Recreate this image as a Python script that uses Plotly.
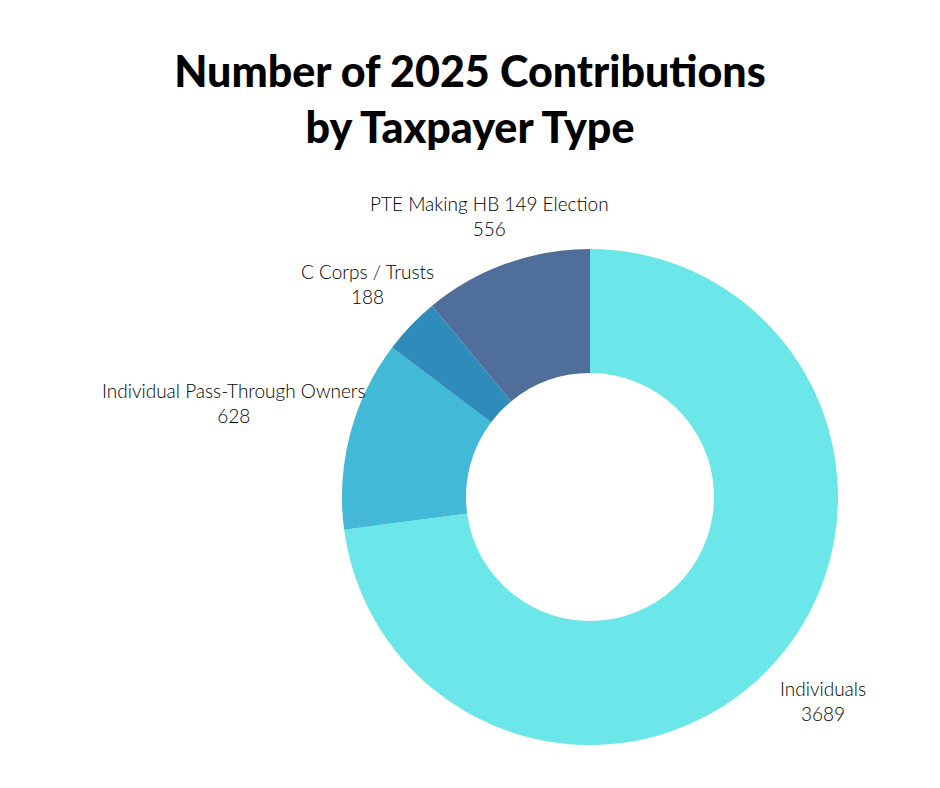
import math
import plotly.graph_objects as go

categories = ["Individuals", "Individual Pass-Through Owners", "C Corps / Trusts", "PTE Making HB 149 Election"]
contributions = [3689, 628, 188, 556]
colors = ["#6BE6E9", "#42B9D7", "#2E8BBA", "#4F6E99"]

W, H = 940, 788
# page is offset by the default 8px body margin
cx, cy, r = 582, 489, 248
label_size = 19
label_gap = 24

fig = go.Figure(go.Pie(
    labels=categories,
    values=contributions,
    hole=0.5,
    sort=False,
    direction="clockwise",
    rotation=0,
    marker=dict(colors=colors, line=dict(width=0)),
    textinfo="none",
    showlegend=False,
    hoverinfo="label+value",
    domain=dict(x=[(cx - r) / W, (cx + r) / W], y=[1 - (cy + r) / H, 1 - (cy - r) / H]),
))

# outside labels placed along each slice's mid-angle
total = sum(contributions)
cum = 0
annotations = []
for lab, val in zip(categories, contributions):
    mid = (cum + val / 2) / total * 2 * math.pi
    cum += val
    sx, sy = math.sin(mid), -math.cos(mid)
    a = len(lab) * 0.24 * label_size
    b = 1.3 * label_size
    ext = min(a / max(abs(sx), 1e-6), b / max(abs(sy), 1e-6))
    d = r + label_gap + ext
    px, py = cx + sx * d, cy + sy * d
    annotations.append(dict(
        text=f"{lab}<br>{val}", x=px / W, y=1 - py / H, xref="paper", yref="paper",
        xanchor="center", yanchor="middle", showarrow=False, align="center",
        font=dict(family="Lato", size=label_size, color="#000000", weight=300),
    ))

fig.update_layout(
    width=W, height=H,
    margin=dict(l=0, r=0, t=0, b=0),
    paper_bgcolor="white",
    plot_bgcolor="white",
    annotations=annotations,
    title=dict(
        text="Number of 2025 Contributions<br>by Taxpayer Type",
        x=462 / W, xanchor="center", y=0.9, yanchor="top",
        font=dict(family="Lato", size=43, color="black", weight=900),
    ),
)

fig.write_html("out.html")
